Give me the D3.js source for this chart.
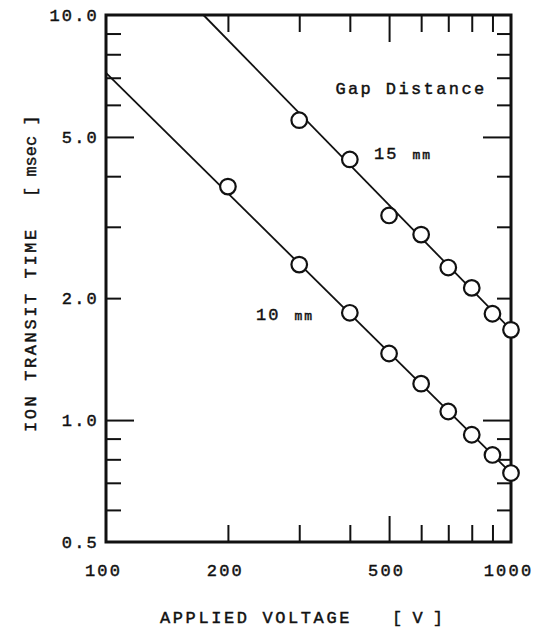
<!DOCTYPE html>
<html>
<head>
<meta charset="utf-8">
<script src="https://cdn.jsdelivr.net/npm/d3@7"></script>
<style>
  body { margin: 0; background: #fff; }
  svg { display: block; }
  text { font-family: "Liberation Mono", "DejaVu Sans Mono", monospace; fill: #111; stroke: #111; stroke-width: 0.45; }
</style>
</head>
<body>
<script>
// ion transit time vs applied voltage, log-log
const voltage15 = [300, 400, 500, 600, 700, 800, 900, 1000];
const time15 = [5.5, 4.4, 3.2, 2.87, 2.38, 2.12, 1.83, 1.67];
const voltage10 = [200, 300, 400, 500, 600, 700, 800, 900, 1000];
const time10 = [3.77, 2.42, 1.84, 1.46, 1.23, 1.05, 0.92, 0.82, 0.74];

// fitted lines (end points)
const fit15V = [174, 1000];
const fit15T = [10, 1.67];
const fit10V = [100, 1000];
const fit10T = [7.2, 0.74];

const xLabels = [100, 200, 500, 1000];
const yLabels = [0.5, 1, 2, 5, 10];
const xMinor = [200, 300, 400, 600, 700, 800, 900];
const xMajor = [500];
const yMinor = [0.6, 0.7, 0.8, 0.9, 2, 3, 4, 6, 7, 8, 9];
const yMajor = [1, 5];

const width = 535, height = 629;
const mLeft = 106, mRight = 511, mTop = 15, mBottom = 542;

const x = d3.scaleLog().domain([100, 1000]).range([mLeft, mRight]);
const y = d3.scaleLog().domain([0.5, 10]).range([mBottom, mTop]);

const svg = d3.select("body").append("svg")
  .attr("width", width)
  .attr("height", height);

// tick marks, all pointing into the plot
function ticks(axis, vals, len, pos) {
  const g = svg.append("g")
    .attr("transform", pos)
    .call(axis.tickValues(vals).tickSize(len).tickFormat(""));
  g.select(".domain").remove();
  g.selectAll("line").attr("stroke", "#111").attr("stroke-width", 2);
}
ticks(d3.axisBottom(x), xMinor, -17, `translate(0,${mBottom})`);
ticks(d3.axisBottom(x), xMajor, -26, `translate(0,${mBottom})`);
ticks(d3.axisTop(x), xMinor, -17, `translate(0,${mTop})`);
ticks(d3.axisTop(x), xMajor, -27, `translate(0,${mTop})`);
ticks(d3.axisLeft(y), yMinor, -15, `translate(${mLeft},0)`);
ticks(d3.axisLeft(y), yMajor, -28, `translate(${mLeft},0)`);
ticks(d3.axisRight(y), yMinor, -14, `translate(${mRight},0)`);
ticks(d3.axisRight(y), yMajor, -28, `translate(${mRight},0)`);

// frame
svg.append("rect")
  .attr("x", mLeft).attr("y", mTop)
  .attr("width", mRight - mLeft).attr("height", mBottom - mTop)
  .attr("fill", "none")
  .attr("stroke", "#111")
  .attr("stroke-width", 3);

// tick labels
const xl = svg.append("g")
  .attr("transform", `translate(-3,${mBottom})`)
  .call(d3.axisBottom(x).tickValues(xLabels).tickSize(0).tickPadding(22).tickFormat(d3.format("d")));
xl.select(".domain").remove();

const yl = svg.append("g")
  .attr("transform", `translate(${mLeft},0)`)
  .call(d3.axisLeft(y).tickValues(yLabels).tickSize(0).tickPadding(7).tickFormat(d3.format(".1f")));
yl.select(".domain").remove();

svg.selectAll(".tick text")
  .attr("font-family", "Liberation Mono, DejaVu Sans Mono, monospace")
  .attr("font-size", 17)
  .attr("letter-spacing", 2.2)
  .attr("fill", "#111");

// fit lines
const line = d3.line().x(d => x(d[0])).y(d => y(d[1]));
[[fit15V, fit15T], [fit10V, fit10T]].forEach(([vs, ts]) => {
  svg.append("path")
    .datum(vs.map((v, i) => [v, ts[i]]))
    .attr("d", line)
    .attr("fill", "none")
    .attr("stroke", "#111")
    .attr("stroke-width", 1.8);
});

// data points
[[voltage15, time15], [voltage10, time10]].forEach(([vs, ts]) => {
  svg.append("g")
    .selectAll("circle")
    .data(vs.map((v, i) => [v, ts[i]]))
    .join("circle")
    .attr("cx", d => x(d[0]))
    .attr("cy", d => y(d[1]))
    .attr("r", 7.8)
    .attr("fill", "#fff")
    .attr("stroke", "#111")
    .attr("stroke-width", 2.2);
});

// annotations
svg.append("text")
  .attr("x", 411).attr("y", 94)
  .attr("text-anchor", "middle")
  .attr("font-size", 17)
  .attr("letter-spacing", 2.4)
  .text("Gap Distance");

function gapLabel(xp, yp, num) {
  const t = svg.append("text").attr("x", xp).attr("y", yp).attr("font-size", 17).attr("letter-spacing", 2);
  t.append("tspan").text(num);
  t.append("tspan").attr("dx", 14).attr("font-size", 13).text("mm");
}
gapLabel(374, 159, "15");
gapLabel(256, 320, "10");

// axis titles
const xt = svg.append("text")
  .attr("x", 160).attr("y", 623)
  .attr("font-size", 17)
  .attr("letter-spacing", 2.6);
xt.append("tspan").text("APPLIED VOLTAGE");
xt.append("tspan").attr("x", 392).attr("letter-spacing", 0).text("[ V ]");

const yt = svg.append("g").attr("transform", "translate(36,0) rotate(-90)");
yt.append("text")
  .attr("x", -432).attr("y", 0)
  .attr("font-size", 17)
  .attr("letter-spacing", 2.6)
  .text("ION TRANSIT TIME");
yt.append("text")
  .attr("x", -197).attr("y", 0)
  .attr("font-size", 17)
  .attr("letter-spacing", 0)
  .text("[ msec ]");
</script>
</body>
</html>
